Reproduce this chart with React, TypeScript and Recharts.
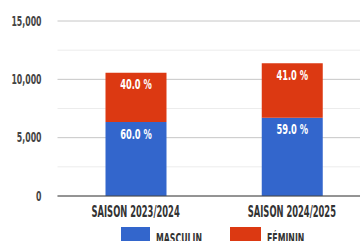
import React from 'react';
import { BarChart, Bar, XAxis, YAxis, CartesianGrid, Legend, LabelList } from 'recharts';

const seasons = ['SAISON 2023/2024', 'SAISON 2024/2025'];
const masculin = [6342, 6714];
const feminin = [4228, 4666];
const masculinPct = ['60.0 %', '59.0 %'];
const femininPct = ['40.0 %', '41.0 %'];
const yTicks = [0, 2500, 5000, 7500, 10000, 12500, 15000];

const BLUE = '#3366cc';
const RED = '#dc3912';
const FONT = '"DejaVu Sans Condensed", "DejaVu Sans", sans-serif';
const SQUEEZE = 0.62;

const data = seasons.map((s, i) => ({
  name: s,
  masculin: masculin[i],
  feminin: feminin[i],
  mPct: masculinPct[i],
  fPct: femininPct[i],
}));

const CondText = ({ x, y, text, anchor = 'middle', fill = '#333', size = 14, sx = SQUEEZE }: any) => (
  <text
    transform={`translate(${x},${y}) scale(${sx},1)`}
    textAnchor={anchor}
    dominantBaseline="central"
    fontFamily={FONT}
    fontWeight="bold"
    fontSize={size}
    fill={fill}
  >
    {text}
  </text>
);

const YTick = ({ x, y, payload }: any) => {
  if (payload.value % 5000 !== 0) return null;
  return <CondText x={x} y={y} text={payload.value.toLocaleString('en-US')} anchor="end" fill="#444" />;
};

const XTick = ({ x, y, payload }: any) => (
  <CondText x={x} y={y + 8} text={payload.value} fill="#333" size={15} />
);

const gridLine = (props: any) => {
  const major = props.index % 2 === 0;
  return (
    <line
      key={`g-${props.index}`}
      x1={props.x1}
      x2={props.x2}
      y1={props.y1}
      y2={props.y2}
      stroke={major ? '#c6c6c6' : '#ececec'}
      strokeWidth={1}
    />
  );
};

const barLabel = (key: 'mPct' | 'fPct') => (props: any) => {
  const { x, y, width, index } = props;
  return (
    <CondText
      key={`${key}-${index}`}
      x={x + width / 2}
      y={y + 12}
      text={data[index][key]}
      fill="#fff"
      size={14}
      sx={0.66}
    />
  );
};

const LegendContent = () => (
  <div style={{ display: 'flex', paddingLeft: 121, fontFamily: FONT, fontWeight: 'bold', fontSize: 14, color: '#333' }}>
    {[
      { label: 'MASCULIN', color: BLUE },
      { label: 'FÉMININ', color: RED },
    ].map((it) => (
      <div key={it.label} style={{ display: 'flex', alignItems: 'flex-start', width: 109 }}>
        <div style={{ width: 31, height: 16, background: it.color, marginRight: 6 }} />
        <span style={{ display: 'inline-block', transform: `scale(${SQUEEZE},1)`, transformOrigin: 'left center', lineHeight: '18px', marginTop: 2, whiteSpace: 'nowrap' }}>
          {it.label}
        </span>
      </div>
    ))}
  </div>
);

export default function App() {
  return (
    <div style={{ position: 'fixed', left: 0, top: 0, width: 360, height: 241, overflow: 'hidden', background: '#fff' }}>
      <BarChart width={370} height={241} data={data} margin={{ top: 21, right: 0, left: 0, bottom: 0 }} barSize={61}>
        <CartesianGrid vertical={false} horizontal={gridLine} />
        <XAxis
          dataKey="name"
          height={45}
          tickLine={false}
          axisLine={{ stroke: '#444', strokeWidth: 1 }}
          tick={<XTick />}
          interval={0}
        />
        <YAxis
          width={57.5}
          domain={[0, 15000]}
          ticks={yTicks}
          axisLine={false}
          tickLine={false}
          tickSize={8}
          tickMargin={8}
          tick={<YTick />}
          interval={0}
        />
        <Legend
          layout="horizontal"
          verticalAlign="middle"
          align="center"
          content={<LegendContent />}
          wrapperStyle={{ top: 227, left: 0, width: 360, height: 20 }}
        />
        <Bar dataKey="masculin" stackId="a" fill={BLUE} isAnimationActive={false}>
          <LabelList dataKey="mPct" content={barLabel('mPct')} />
        </Bar>
        <Bar dataKey="feminin" stackId="a" fill={RED} isAnimationActive={false}>
          <LabelList dataKey="fPct" content={barLabel('fPct')} />
        </Bar>
      </BarChart>
    </div>
  );
}
